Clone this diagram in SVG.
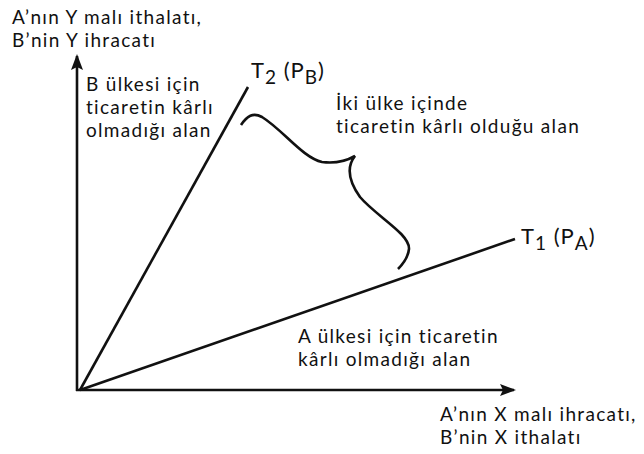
<svg xmlns="http://www.w3.org/2000/svg" width="644" height="454" viewBox="0 0 644 454">
<style>
text{font-family:"Lato","Open Sans","Liberation Sans",sans-serif;font-size:19px;letter-spacing:1.3px;fill:#111}
.ln{stroke:#111;stroke-width:2.6;fill:none}
.t{font-size:22px;letter-spacing:1px}
.sub{font-size:19px}
</style>
<defs>
<marker id="ar" markerWidth="16" markerHeight="12" refX="14" refY="6" orient="auto" markerUnits="userSpaceOnUse"><path d="M0,0 L16,6 L0,12 L3,6 Z" fill="#111"/></marker>
</defs>
<rect width="644" height="454" fill="#fff"/>
<g id="connectors">
<line class="ln" x1="77" y1="391" x2="77" y2="56" marker-end="url(#ar)"/>
<line class="ln" x1="76" y1="390" x2="514" y2="390" marker-end="url(#ar)"/>
<line class="ln" x1="80" y1="390" x2="248" y2="87"/>
<line class="ln" x1="80" y1="390" x2="515" y2="239"/>
<path class="ln" d="M241,125 C247,116 253,112 262,117 C283,130 303,158 322,162 C338,164 348,160 355,156 C347,166 348,180 360,197 C376,216 410,234 409,249 C408,258 403,264 398,269"/>
</g>
<g id="y-label"><text x="12" y="24">A’nın Y malı ithalatı,</text><text x="12" y="47">B’nin Y ihracatı</text></g>
<g id="x-label"><text x="440" y="421">A’nın X malı ihracatı,</text><text x="440" y="444">B’nin X ithalatı</text></g>
<g id="b-region"><text x="86" y="91">B ülkesi için</text><text x="86" y="114">ticaretin kârlı</text><text x="86" y="137">olmadığı alan</text></g>
<g id="t2"><text class="t" x="251" y="78">T<tspan class="sub" dy="6">2</tspan><tspan dy="-6"> (P</tspan><tspan class="sub" dy="6">B</tspan><tspan dy="-6">)</tspan></text></g>
<g id="both-region"><text x="336" y="110">İki ülke içinde</text><text x="336" y="133">ticaretin kârlı olduğu alan</text></g>
<g id="t1"><text class="t" x="521" y="244">T<tspan class="sub" dy="6">1</tspan><tspan dy="-6"> (P</tspan><tspan class="sub" dy="6">A</tspan><tspan dy="-6">)</tspan></text></g>
<g id="a-region"><text x="298" y="343">A ülkesi için ticaretin</text><text x="298" y="366">kârlı olmadığı alan</text></g>
</svg>
